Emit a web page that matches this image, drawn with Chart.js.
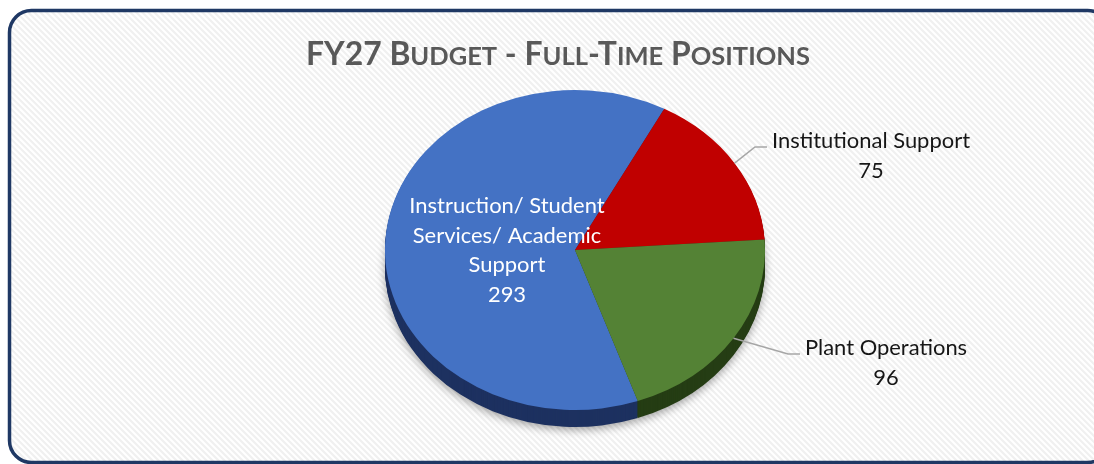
<!DOCTYPE html>
<html><head><meta charset="utf-8">
<script src="https://cdn.jsdelivr.net/npm/chart.js@4.4.1/dist/chart.umd.min.js"></script>
<style>html,body{margin:0;padding:0;background:#fff;overflow:hidden}canvas{display:block}</style>
</head><body>
<canvas id="c" width="1094" height="464"></canvas>
<script>
// ---- data ----
const categories = ['Instruction/ Student Services/ Academic Support', 'Institutional Support', 'Plant Operations'];
const positions = [293, 75, 96];
const labelLines = [['Instruction/ Student', 'Services/ Academic', 'Support'], ['Institutional Support'], ['Plant Operations']];
const titleText = 'FY27 Budget - Full-Time Positions';

// ---- style ----
const sliceColors = ['#4472c4', '#c00000', '#548235'];
const sideColors = ['#1d3160', '#6a0000', '#253d14'];
const W = 1094, H = 464;
const GEO = { cx: 575, cy: 250, r: 190, squash: 0.842, depth: 17 };
const FIRST_SLICE_ANGLE = 160.7;
const LABEL_FONT = 'Lato';
const LABELS = [
  { x: 507, y: 213, color: '#ffffff' },
  { x: 871, y: 148, color: '#161616', elbow: [755, 147], end: [767, 147] },
  { x: 886, y: 355, color: '#161616', elbow: [788, 354], end: [800, 354] }
];
const LINE_H = 29.5;

function fitSize(ctx, text, weight, family, target) {
  ctx.font = weight + ' 100px ' + family;
  return 100 * target / ctx.measureText(text).width;
}

const bgPlugin = {
  id: 'bg',
  beforeDraw(chart) {
    const ctx = chart.ctx;
    ctx.save();
    ctx.fillStyle = '#ffffff';
    ctx.fillRect(0, 0, W, H);
    ctx.beginPath();
    ctx.roundRect(9.5, 10.5, 1100, 452, 22);
    ctx.clip();
    ctx.strokeStyle = '#f0f0f0';
    ctx.lineWidth = 2.2;
    for (let x = -H; x < W + 10; x += 6) {
      ctx.beginPath();
      ctx.moveTo(x, 0);
      ctx.lineTo(x + H, H);
      ctx.stroke();
    }
    ctx.restore();
  }
};

const pie3dPlugin = {
  id: 'pie3d',
  beforeDatasetDraw(chart, args) {
    const ctx = chart.ctx, els = args.meta.data;
    if (!els.length) return;
    const cx = els[0].x, cy = els[0].y;
    const squashAt = (dy) => { ctx.translate(cx, cy + dy); ctx.scale(1, GEO.squash); ctx.translate(-cx, -cy); };
    for (let d = GEO.depth; d >= 1; d--) {
      ctx.save();
      squashAt(d);
      if (d === GEO.depth) {
        ctx.shadowColor = 'rgba(0,0,0,0.35)';
        ctx.shadowBlur = 9;
        ctx.shadowOffsetY = 3;
      }
      els.forEach((el, i) => {
        const p = Object.create(el);
        p.options = Object.assign({}, el.options, { backgroundColor: sideColors[i], borderWidth: 0 });
        el.draw.call(p, ctx);
      });
      ctx.restore();
    }
    ctx.save();
    squashAt(0);
  },
  afterDatasetDraw(chart) { chart.ctx.restore(); }
};

const decorPlugin = {
  id: 'decor',
  afterDraw(chart) {
    const ctx = chart.ctx;
    const els = chart.getDatasetMeta(0).data;
    ctx.save();
    // data labels
    const fs = fitSize(ctx, 'Institutional Support', 'normal', LABEL_FONT, 198);
    ctx.font = 'normal ' + fs.toFixed(2) + 'px ' + LABEL_FONT;
    ctx.textAlign = 'center';
    ctx.textBaseline = 'alphabetic';
    els.forEach((el, i) => {
      const L = LABELS[i];
      if (L.elbow) {
        const a = (el.startAngle + el.endAngle) / 2;
        const ex = el.x + el.outerRadius * Math.cos(a);
        const ey = el.y + GEO.squash * el.outerRadius * Math.sin(a);
        ctx.strokeStyle = '#a6a6a6';
        ctx.lineWidth = 1.5;
        ctx.beginPath();
        ctx.moveTo(ex, ey);
        ctx.lineTo(L.elbow[0], L.elbow[1]);
        ctx.lineTo(L.end[0], L.end[1]);
        ctx.stroke();
      }
      ctx.fillStyle = L.color;
      const lines = labelLines[i].concat([String(positions[i])]);
      lines.forEach((t, k) => ctx.fillText(t, L.x, L.y + k * LINE_H));
    });
    // title with small caps
    const segs = [];
    for (const ch of titleText) {
      const small = ch !== ch.toUpperCase();
      const last = segs[segs.length - 1];
      if (last && last.small === small) last.t += ch.toUpperCase();
      else segs.push({ t: ch.toUpperCase(), small });
    }
    const ratio = 0.8, fam = 'Lato', wt = '700';
    let w100 = 0;
    segs.forEach(s => { ctx.font = wt + ' ' + (s.small ? 100 * ratio : 100) + 'px ' + fam; w100 += ctx.measureText(s.t).width; });
    const big = 100 * 504 / w100;
    let x = 558 - 504 / 2;
    ctx.textAlign = 'left';
    ctx.fillStyle = '#595959';
    segs.forEach(s => {
      ctx.font = wt + ' ' + (s.small ? big * ratio : big).toFixed(2) + 'px ' + fam;
      ctx.fillText(s.t, x, 65);
      x += ctx.measureText(s.t).width;
    });
    // frame
    ctx.strokeStyle = '#1f3864';
    ctx.lineWidth = 3.5;
    ctx.beginPath();
    ctx.roundRect(9.5, 10.5, 1100, 452, 22);
    ctx.stroke();
    ctx.restore();
  }
};

new Chart(document.getElementById('c'), {
  type: 'pie',
  data: {
    labels: categories,
    datasets: [{ data: positions, backgroundColor: sliceColors, borderWidth: 0, hoverOffset: 0, offset: 0, clip: false }]
  },
  options: {
    responsive: false,
    animation: false,
    devicePixelRatio: 1,
    events: [],
    rotation: FIRST_SLICE_ANGLE,
    layout: { padding: { left: GEO.cx - GEO.r, right: W - GEO.cx - GEO.r, top: GEO.cy - GEO.r, bottom: H - GEO.cy - GEO.r } },
    plugins: { legend: { display: false }, tooltip: { enabled: false }, title: { display: false } }
  },
  plugins: [bgPlugin, pie3dPlugin, decorPlugin]
});
</script>
</body></html>
